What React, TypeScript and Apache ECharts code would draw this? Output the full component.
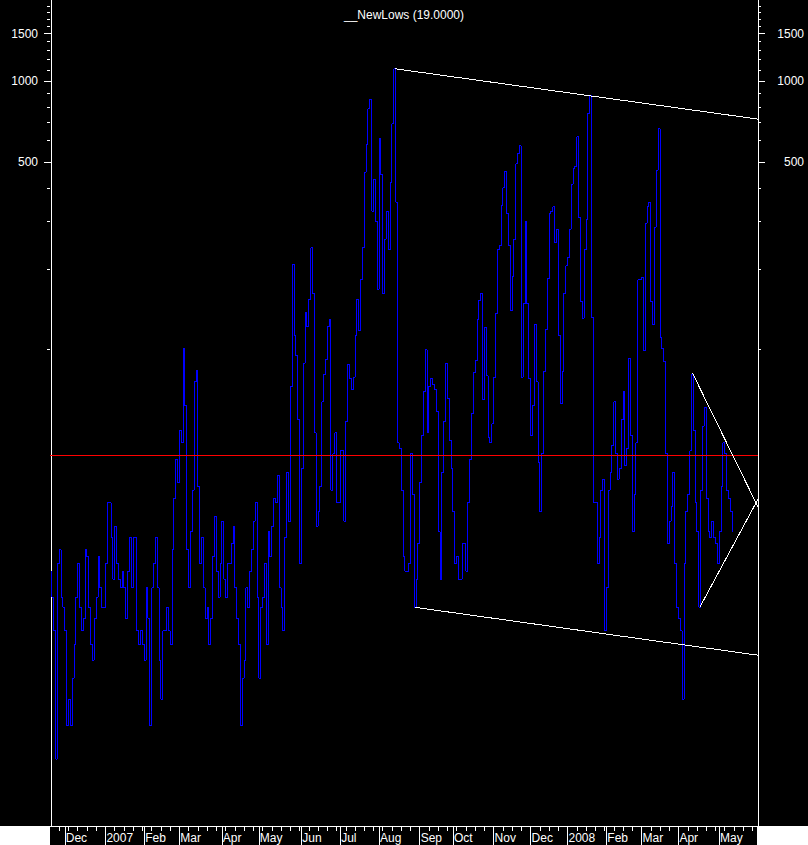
import React, { useEffect, useRef } from "react";
import * as echarts from "echarts";

// ---- axis structure ----
const monthLabels = ["Nov", "Dec", "2007", "Feb", "Mar", "Apr", "May", "Jun", "Jul", "Aug", "Sep", "Oct", "Nov", "Dec", "2008", "Feb", "Mar", "Apr", "May"];
const monthDays = [8, 22, 21, 19, 23, 20, 23, 21, 21, 22, 18, 22, 20, 20, 21, 19, 20, 22, 21];

const yMin = 1.69;
const yMax = 2000;
const majorTicks = [500, 1000, 1500];
const minorTicks = [100, 200, 300, 400, 600, 700, 800, 900, 1100, 1200, 1300, 1400, 1600, 1700, 1800, 1900];
const refLevel = 40.5;
const titleText = "__NewLows (19.0000)";

// ---- daily NewLows values ----
const lowsNov06toMar07 = [15, 12, 9, 3, 16, 18, 12, 11, 9, 4, 5, 4, 6, 8, 12, 16, 11, 9, 10, 18, 17, 11, 8, 7, 10, 12, 17, 13, 11, 11, 16, 27, 27, 20, 14, 22, 16, 14, 13, 15, 13, 10, 15, 20, 13, 20, 20, 9, 8, 9, 8, 7, 13, 10, 4, 13, 16, 20, 13, 7, 5, 9, 9, 11, 9, 8, 18, 28, 39, 32, 50, 45, 101, 62, 18, 13, 21, 30, 76, 84, 31, 16, 20, 13, 10, 11, 8, 10, 17, 24, 15, 12, 16, 23, 14, 12, 16];
const lowsApr07toAug07 = [16, 19, 22, 13, 10, 8, 4, 6, 7, 13, 11, 15, 18, 23, 27, 12, 6, 11, 12, 16, 8, 21, 17, 22, 28, 27, 34, 13, 11, 9, 20, 35, 23, 73, 208, 113, 95, 55, 16, 36, 89, 138, 122, 154, 239, 162, 49, 22, 25, 31, 64, 81, 92, 122, 130, 30, 41, 49, 27, 27, 42, 42, 23, 54, 88, 78, 71, 79, 113, 154, 118, 182, 239, 458, 578, 789, 856, 328, 431, 301, 168, 613, 447, 162, 258, 328, 235, 420, 692, 1110, 354, 45, 43, 30, 17, 15, 15];
const lowsAug07toJan08 = [16, 41, 29, 11, 14, 19, 32, 48, 70, 100, 49, 73, 78, 74, 71, 59, 21, 14, 35, 54, 89, 66, 46, 36, 25, 16, 17, 14, 14, 19, 19, 15, 27, 39, 58, 82, 91, 129, 153, 162, 65, 121, 80, 47, 45, 53, 79, 136, 235, 244, 345, 400, 462, 320, 244, 140, 187, 258, 491, 536, 573, 79, 148, 301, 148, 78, 48, 62, 124, 76, 38, 25, 41, 83, 119, 184, 320, 328, 340, 250, 281, 113, 63, 83, 162, 205, 221, 281, 413, 474, 482, 619, 310, 151, 131, 235, 304];
const lowsJan08toMay08 = [756, 882, 132, 27, 27, 16, 20, 30, 33, 9, 13, 30, 35, 44, 64, 41, 33, 36, 55, 70, 37, 43, 93, 48, 21, 29, 45, 182, 182, 185, 99, 296, 340, 354, 151, 124, 286, 466, 663, 111, 101, 90, 41, 19, 23, 26, 35, 16, 11, 10, 9, 5, 16, 25, 29, 42, 81, 50, 27, 21, 11, 30, 52, 61, 28, 21, 20, 23, 20, 19, 16, 21, 31, 45, 41, 30, 28, 25, 21];

// ---- hand-drawn trend lines: [day index, value] ----
const channelTop = [[186, 1110], [382.5, 721]];
const channelBottom = [[197, 11], [382.5, 7.3]];
const wedgeTop = [[347, 82], [382.5, 26]];
const wedgeBottom = [[351, 11], [382.5, 27.8]];

const FONT = "Liberation Sans";

export default function App() {
  const ref = useRef<HTMLDivElement>(null);

  useEffect(() => {
    if (!ref.current) return;
    const chart = echarts.init(ref.current, undefined, { renderer: "svg" });

    const categories: string[] = [];
    const monthStart = new Map<number, string>();
    monthDays.forEach((n, m) => {
      if (m > 0) monthStart.set(categories.length, monthLabels[m]);
      for (let k = 0; k < n; k++) categories.push(`${monthLabels[m]}-${m}-${k + 1}`);
    });
    const nCat = categories.length;
    const newLows = [...lowsNov06toMar07, ...lowsApr07toAug07, ...lowsAug07toJan08, ...lowsJan08toMay08];

    const logAxis = (position: "left" | "right", major: boolean) => ({
      type: "log",
      logBase: 10,
      min: yMin,
      max: yMax,
      position,
      axisLine: { show: major, lineStyle: { color: "#ffffff", width: 1 } },
      axisTick: {
        show: true,
        customValues: major ? majorTicks : minorTicks,
        length: major ? 7 : 3,
        lineStyle: { color: "#ffffff", width: 1 },
      },
      axisLabel: major
        ? {
            show: true,
            customValues: majorTicks,
            formatter: (v: number) => String(Math.round(v)),
            color: "#ffffff",
            fontSize: 12,
            fontFamily: FONT,
            margin: position === "left" ? 12 : 46,
            align: "right",
          }
        : { show: false },
      splitLine: { show: false },
      minorTick: { show: false },
      minorSplitLine: { show: false },
    });

    const trend = (data: number[][]) => ({
      type: "line",
      xAxisIndex: 2,
      yAxisIndex: 0,
      data,
      symbol: "none",
      silent: true,
      lineStyle: { color: "#ffffff", width: 1 },
      z: 5,
    });

    chart.setOption({
      animation: false,
      backgroundColor: "#000000",
      textStyle: { fontFamily: FONT },
      title: {
        text: titleText,
        left: "center",
        top: 4,
        textStyle: { color: "#ffffff", fontSize: 12, fontWeight: "normal", fontFamily: FONT },
      },
      grid: { left: 50, right: 50, top: 0, bottom: 19, containLabel: false },
      xAxis: [
        {
          type: "category",
          data: categories,
          boundaryGap: true,
          axisLine: { show: true, onZero: false, lineStyle: { color: "#ffffff", width: 1 } },
          axisTick: {
            show: true,
            interval: (i: number) => i > 0 && i % 5 === 0,
            length: 5,
            lineStyle: { color: "#ffffff", width: 1 },
          },
          axisLabel: { show: false },
          splitLine: { show: false },
        },
        {
          type: "category",
          data: categories,
          position: "bottom",
          boundaryGap: true,
          axisLine: { show: false, onZero: false },
          axisTick: {
            show: true,
            interval: (i: number) => monthStart.has(i),
            length: 19,
            lineStyle: { color: "#ffffff", width: 1 },
          },
          axisLabel: {
            show: true,
            interval: (i: number) => monthStart.has(i),
            formatter: (_v: string, i: number) => monthStart.get(i) ?? "",
            color: "#ffffff",
            fontSize: 12,
            fontFamily: FONT,
            align: "left",
            margin: 6,
          },
          splitLine: { show: false },
        },
        { type: "value", min: -0.5, max: nCat - 0.5, show: false },
      ],
      yAxis: [logAxis("left", true), logAxis("right", true), logAxis("left", false), logAxis("right", false)],
      graphic: [
        { type: "rect", shape: { x: 0, y: 826, width: 50, height: 19 }, style: { fill: "#ffffff" }, silent: true },
        { type: "rect", shape: { x: 757, y: 826, width: 51, height: 19 }, style: { fill: "#ffffff" }, silent: true },
      ],
      series: [
        {
          type: "line",
          name: "NewLows",
          xAxisIndex: 0,
          yAxisIndex: 0,
          data: newLows,
          step: "middle",
          symbol: "none",
          showSymbol: false,
          lineStyle: { color: "#0000ff", width: 1 },
          z: 3,
          markLine: {
            silent: true,
            symbol: ["none", "none"],
            label: { show: false },
            lineStyle: { color: "#ff0000", width: 1, type: "solid" },
            data: [{ yAxis: refLevel }],
          },
        },
        trend(channelTop),
        trend(channelBottom),
        trend(wedgeTop),
        trend(wedgeBottom),
      ],
    } as any);

    // bitmap-like crisp rendering of the line work, as in the reference
    ref.current.querySelectorAll("path").forEach((p) => {
      p.setAttribute("shape-rendering", "crispEdges");
    });

    return () => chart.dispose();
  }, []);

  return (
    <div
      ref={ref}
      style={{ position: "absolute", left: 0, top: 0, width: 808, height: 845 }}
    />
  );
}
